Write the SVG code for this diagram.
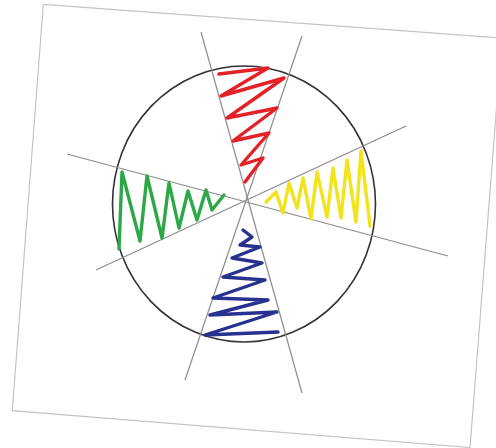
<svg xmlns="http://www.w3.org/2000/svg" width="496" height="448" viewBox="0 0 496 448">
<style>
.paper{fill:#ffffff;stroke:#c4c4c4;stroke-width:1.2}
.ray{stroke:#8c8c8c;stroke-width:1.2;fill:none}
.rim{fill:none;stroke:#333333;stroke-width:1.6}
.zz{fill:none;stroke-width:3.4;stroke-linejoin:round;stroke-linecap:round}
</style>
<rect width="496" height="448" fill="#ffffff"/>
<g id="paper"><polygon class="paper" points="43.3,4.3 502,38 470,447.5 12.3,410.7"/></g>
<g id="circle"><ellipse class="rim" cx="244" cy="204" rx="131.5" ry="138"/></g>
<g id="connectors">
<line class="ray" x1="201" y1="32" x2="302" y2="393"/>
<line class="ray" x1="302" y1="36" x2="185" y2="380"/>
<line class="ray" x1="67" y1="154" x2="448" y2="256"/>
<line class="ray" x1="406" y1="126" x2="96" y2="270"/>
</g>
<g id="red"><polyline class="zz" stroke="#e52128" points="219,74 268,68 221,96 284,78 227,118 277,108 233,141 269,133 241,165 263,158 245,182"/></g>
<g id="green"><polyline class="zz" stroke="#2ea846" points="119,249 122,172 140,241 147,176 162,238 169,183 179,228 188,191 197,220 206,190 212,210 224,195"/></g>
<g id="yellow"><polyline class="zz" stroke="#f2e41c" points="266,202 276,192 283,213 289,183 297,208 303,178 311,219 317,172 327,217 333,168 341,218 347,160 356,222 361,151 370,226"/></g>
<g id="blue"><polyline class="zz" stroke="#28318f" points="243,230 252,237 240,245 260,247 232,258 262,263 223,277 265,280 213,298 268,300 210,315 277,312 205,335 278,332"/></g>
</svg>
